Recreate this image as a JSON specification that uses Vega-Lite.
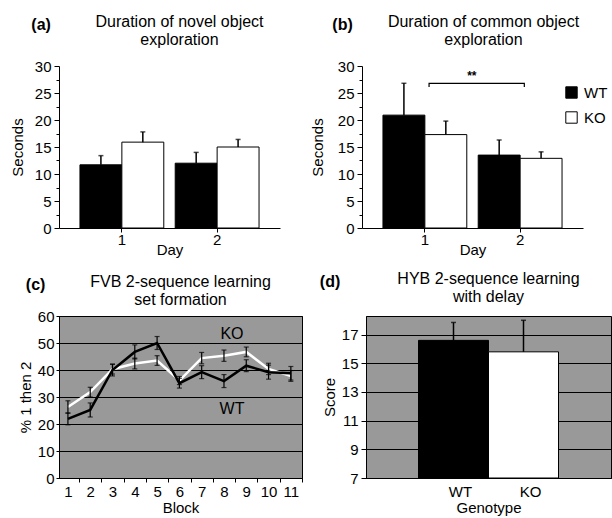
{
  "$schema": "https://vega.github.io/schema/vega-lite/v6.json",
  "padding": {"left": 10, "top": 14, "right": 0, "bottom": 0},
  "config": {
    "font": "Liberation Sans",
    "view": {"stroke": null},
    "axis": {"labelFontSize": 15, "titleFontSize": 15, "titleFontWeight": "normal", "labelColor": "black", "titleColor": "black", "domainColor": "black", "tickColor": "black", "grid": false, "tickSize": 5, "labelPadding": 3, "labelOverlap": false},
    "title": {"fontSize": 16, "fontWeight": "normal", "color": "black"},
    "legend": {"labelFontSize": 15, "labelColor": "black"}
  },
  "resolve": {"scale": {"fill": "independent", "color": "independent"}, "legend": {"fill": "independent", "color": "independent"}},
  "datasets": {
    "novel": [
      {"day": "1", "genotype": "WT", "mean": 11.7, "upper": 13.4},
      {"day": "1", "genotype": "KO", "mean": 15.9, "upper": 17.8},
      {"day": "2", "genotype": "WT", "mean": 12.0, "upper": 14.0},
      {"day": "2", "genotype": "KO", "mean": 15.0, "upper": 16.4}
    ],
    "common": [
      {"day": "1", "genotype": "WT", "mean": 20.9, "upper": 26.8},
      {"day": "1", "genotype": "KO", "mean": 17.3, "upper": 19.8},
      {"day": "2", "genotype": "WT", "mean": 13.5, "upper": 16.3},
      {"day": "2", "genotype": "KO", "mean": 12.9, "upper": 14.1}
    ],
    "bracket": [
      {"day": "1", "y": 26.1, "o": 1},
      {"day": "1", "y": 26.8, "o": 2},
      {"day": "2", "y": 26.8, "o": 3},
      {"day": "2", "y": 26.1, "o": 4}
    ],
    "stars": [{"day": "1", "y": 28.2, "label": "**"}],
    "fvb": [
      {"block": 1, "genotype": "KO", "mean": 26.3, "lo": 24.0, "hi": 28.6},
      {"block": 2, "genotype": "KO", "mean": 31.8, "lo": 30.0, "hi": 33.6},
      {"block": 3, "genotype": "KO", "mean": 40.3, "lo": 38.5, "hi": 42.1},
      {"block": 4, "genotype": "KO", "mean": 42.4, "lo": 40.4, "hi": 44.4},
      {"block": 5, "genotype": "KO", "mean": 43.5, "lo": 41.7, "hi": 45.3},
      {"block": 6, "genotype": "KO", "mean": 36.1, "lo": 34.6, "hi": 37.6},
      {"block": 7, "genotype": "KO", "mean": 44.4, "lo": 42.3, "hi": 46.5},
      {"block": 8, "genotype": "KO", "mean": 45.3, "lo": 43.2, "hi": 47.4},
      {"block": 9, "genotype": "KO", "mean": 46.7, "lo": 44.9, "hi": 48.5},
      {"block": 10, "genotype": "KO", "mean": 40.4, "lo": 38.3, "hi": 42.5},
      {"block": 11, "genotype": "KO", "mean": 37.8, "lo": 35.8, "hi": 39.8},
      {"block": 1, "genotype": "WT", "mean": 21.9, "lo": 19.7, "hi": 24.1},
      {"block": 2, "genotype": "WT", "mean": 25.2, "lo": 22.6, "hi": 27.8},
      {"block": 3, "genotype": "WT", "mean": 40.0, "lo": 37.8, "hi": 42.2},
      {"block": 4, "genotype": "WT", "mean": 46.7, "lo": 44.1, "hi": 49.3},
      {"block": 5, "genotype": "WT", "mean": 50.0, "lo": 47.6, "hi": 52.4},
      {"block": 6, "genotype": "WT", "mean": 35.1, "lo": 33.3, "hi": 36.9},
      {"block": 7, "genotype": "WT", "mean": 39.2, "lo": 36.8, "hi": 41.6},
      {"block": 8, "genotype": "WT", "mean": 35.9, "lo": 33.5, "hi": 38.3},
      {"block": 9, "genotype": "WT", "mean": 41.6, "lo": 39.4, "hi": 43.8},
      {"block": 10, "genotype": "WT", "mean": 39.2, "lo": 36.6, "hi": 41.8},
      {"block": 11, "genotype": "WT", "mean": 38.8, "lo": 36.3, "hi": 41.3}
    ],
    "fvbLabels": [
      {"block": 8.36, "y": 53.3, "label": "KO"},
      {"block": 8.36, "y": 25.6, "label": "WT"}
    ],
    "hyb": [
      {"genotype": "WT", "mean": 16.6, "upper": 17.85},
      {"genotype": "KO", "mean": 15.8, "upper": 18.0}
    ]
  },
  "vconcat": [
    {
      "spacing": 30,
      "resolve": {"scale": {"fill": "independent", "color": "independent"}, "legend": {"fill": "independent", "color": "independent"}},
      "hconcat": [
        {
          "title": {"text": "(a)", "anchor": "start", "fontWeight": "bold", "offset": 0, "dy": 19, "dx": 21},
          "vconcat": [
            {
              "width": 221, "height": 162,
              "title": {"text": ["Duration of novel object", "exploration"], "frame": "group", "dx": 10, "offset": 11},
              "data": {"name": "novel"},
              "encoding": {
                "x": {"field": "day", "type": "nominal", "title": "Day", "scale": {"paddingInner": 0.12, "paddingOuter": 0.22}, "axis": {"labelAngle": 0, "tickSize": 4, "labelPadding": 0, "titlePadding": -5}},
                "xOffset": {"field": "genotype", "type": "nominal", "sort": ["WT", "KO"], "scale": {"paddingInner": 0, "paddingOuter": 0}}
              },
              "resolve": {"axis": {"y": "independent"}},
              "layer": [
                {
                  "mark": {"type": "bar", "stroke": "black", "strokeWidth": 1},
                  "encoding": {
                    "y": {"field": "mean", "type": "quantitative", "scale": {"domain": [0, 30], "nice": false}, "axis": {"values": [0, 5, 10, 15, 20, 25, 30], "title": "Seconds", "titlePadding": 9}},
                    "fill": {"field": "genotype", "type": "nominal", "scale": {"domain": ["WT", "KO"], "range": ["black", "white"]}, "legend": null}
                  }
                },
                {
                  "mark": {"type": "rule", "color": "black", "strokeWidth": 1.5},
                  "encoding": {
                    "y": {"field": "mean", "type": "quantitative", "axis": {"values": [2.5, 7.5, 12.5, 17.5, 22.5, 27.5], "labels": false, "domain": false, "tickSize": 3, "title": null, "orient": "left"}},
                    "y2": {"field": "upper"}
                  }
                },
                {
                  "mark": {"type": "tick", "color": "black", "thickness": 1.5, "size": 5, "orient": "horizontal"},
                  "encoding": {"y": {"field": "upper", "type": "quantitative", "axis": null}}
                }
              ]
            }
          ]
        },
        {
          "title": {"text": "(b)", "anchor": "start", "fontWeight": "bold", "offset": 0, "dy": 19, "dx": 22},
          "vconcat": [
            {
              "width": 221, "height": 162,
              "title": {"text": ["Duration of common object", "exploration"], "frame": "group", "dx": 11, "offset": 11},
              "resolve": {"axis": {"y": "independent"}},
              "layer": [
                {
                  "data": {"name": "common"},
                  "mark": {"type": "bar", "stroke": "black", "strokeWidth": 1},
                  "encoding": {
                    "x": {"field": "day", "type": "nominal", "title": "Day", "scale": {"paddingInner": 0.12, "paddingOuter": 0.22}, "axis": {"labelAngle": 0, "tickSize": 4, "labelPadding": 0, "titlePadding": -5}},
                    "xOffset": {"field": "genotype", "type": "nominal", "sort": ["WT", "KO"], "scale": {"paddingInner": 0, "paddingOuter": 0}},
                    "y": {"field": "mean", "type": "quantitative", "scale": {"domain": [0, 30], "nice": false}, "axis": {"values": [0, 5, 10, 15, 20, 25, 30], "title": "Seconds", "titlePadding": 12}},
                    "fill": {"field": "genotype", "type": "nominal", "scale": {"domain": ["WT", "KO"], "range": ["black", "white"]}, "legend": {"title": null, "orient": "none", "legendX": 202, "legendY": 19, "symbolType": "square", "symbolSize": 130, "symbolStrokeColor": "black", "symbolStrokeWidth": 1, "rowPadding": 8, "labelOffset": 5}}
                  }
                },
                {
                  "data": {"name": "common"},
                  "mark": {"type": "rule", "color": "black", "strokeWidth": 1.5},
                  "encoding": {
                    "x": {"field": "day", "type": "nominal"},
                    "xOffset": {"field": "genotype", "type": "nominal", "sort": ["WT", "KO"]},
                    "y": {"field": "mean", "type": "quantitative", "axis": {"values": [2.5, 7.5, 12.5, 17.5, 22.5, 27.5], "labels": false, "domain": false, "tickSize": 3, "title": null, "orient": "left"}},
                    "y2": {"field": "upper"}
                  }
                },
                {
                  "data": {"name": "common"},
                  "mark": {"type": "tick", "color": "black", "thickness": 1.5, "size": 5, "orient": "horizontal"},
                  "encoding": {
                    "x": {"field": "day", "type": "nominal"},
                    "xOffset": {"field": "genotype", "type": "nominal", "sort": ["WT", "KO"]},
                    "y": {"field": "upper", "type": "quantitative", "axis": null}
                  }
                },
                {
                  "data": {"name": "bracket"},
                  "mark": {"type": "line", "color": "black", "strokeWidth": 1.2},
                  "encoding": {
                    "x": {"field": "day", "type": "nominal", "bandPosition": 0.55},
                    "y": {"field": "y", "type": "quantitative", "axis": null},
                    "order": {"field": "o"}
                  }
                },
                {
                  "data": {"name": "stars"},
                  "mark": {"type": "text", "fontSize": 12, "fontWeight": "bold", "color": "black"},
                  "encoding": {
                    "x": {"field": "day", "type": "nominal", "bandPosition": 1.06},
                    "y": {"field": "y", "type": "quantitative", "axis": null},
                    "text": {"field": "label"}
                  }
                }
              ]
            }
          ]
        }
      ]
    },
    {
      "spacing": 16,
      "resolve": {"scale": {"fill": "independent", "color": "independent"}, "legend": {"fill": "independent", "color": "independent"}},
      "hconcat": [
        {
          "title": {"text": "(c)", "anchor": "start", "fontWeight": "bold", "offset": 0, "dy": 19, "dx": 8},
          "vconcat": [
            {
              "width": 243, "height": 162,
              "title": {"text": ["FVB 2-sequence learning", "set formation"], "frame": "group", "offset": 1},
              "view": {"fill": "#999999", "stroke": "black"},
              "resolve": {"axis": {"x": "independent", "y": "independent"}},
              "layer": [
                {
                  "data": {"name": "fvb"},
                  "mark": {"type": "line", "strokeWidth": 2.5},
                  "encoding": {
                    "x": {"field": "block", "type": "quantitative", "scale": {"domain": [0.6, 11.5], "nice": false}, "axis": {"values": [1, 2, 3, 4, 5, 6, 7, 8, 9, 10, 11], "ticks": false, "title": "Block", "labelPadding": 6, "titlePadding": 1}},
                    "y": {"field": "mean", "type": "quantitative", "scale": {"domain": [0, 60], "nice": false}, "axis": {"values": [0, 10, 20, 30, 40, 50, 60], "grid": true, "gridColor": "black", "gridOpacity": 1, "gridWidth": 1.2, "title": "% 1 then 2", "titlePadding": 4, "tickSize": 3, "labelPadding": 2}},
                    "color": {"field": "genotype", "type": "nominal", "scale": {"domain": ["WT", "KO"], "range": ["black", "white"]}, "legend": null}
                  }
                },
                {
                  "data": {"name": "fvb"},
                  "mark": {"type": "rule", "color": "black", "strokeWidth": 1.2},
                  "encoding": {
                    "x": {"field": "block", "type": "quantitative", "axis": {"values": [1.5, 2.5, 3.5, 4.5, 5.5, 6.5, 7.5, 8.5, 9.5, 10.5, 11.5], "labels": false, "domain": false, "tickSize": 4, "title": null, "orient": "bottom"}},
                    "y": {"field": "lo", "type": "quantitative", "axis": null},
                    "y2": {"field": "hi"}
                  }
                },
                {
                  "data": {"name": "fvb"},
                  "mark": {"type": "tick", "color": "black", "thickness": 1.2, "size": 5, "orient": "horizontal"},
                  "encoding": {
                    "x": {"field": "block", "type": "quantitative", "axis": null},
                    "y": {"field": "lo", "type": "quantitative", "axis": null}
                  }
                },
                {
                  "data": {"name": "fvb"},
                  "mark": {"type": "tick", "color": "black", "thickness": 1.2, "size": 5, "orient": "horizontal"},
                  "encoding": {
                    "x": {"field": "block", "type": "quantitative", "axis": null},
                    "y": {"field": "hi", "type": "quantitative", "axis": null}
                  }
                },
                {
                  "data": {"name": "fvbLabels"},
                  "mark": {"type": "text", "fontSize": 16, "color": "black"},
                  "encoding": {
                    "x": {"field": "block", "type": "quantitative", "axis": null},
                    "y": {"field": "y", "type": "quantitative", "axis": null},
                    "text": {"field": "label"}
                  }
                }
              ]
            }
          ]
        },
        {
          "title": {"text": "(d)", "anchor": "start", "fontWeight": "bold", "offset": 0, "dy": 19, "dx": -2},
          "vconcat": [
            {
              "width": 245, "height": 162,
              "title": {"text": ["HYB 2-sequence learning", "with  delay"], "frame": "group", "offset": 11},
              "view": {"fill": "#999999", "stroke": "black"},
              "data": {"name": "hyb"},
              "encoding": {
                "x": {"field": "genotype", "type": "nominal", "sort": ["WT", "KO"], "title": "Genotype", "scale": {"paddingInner": 0, "paddingOuter": 0.75}, "axis": {"labelAngle": 0, "ticks": false, "labelOffset": 7, "labelPadding": 6, "titlePadding": 1}}
              },
              "resolve": {"axis": {"y": "independent"}},
              "layer": [
                {
                  "mark": {"type": "bar", "stroke": "black", "strokeWidth": 1},
                  "encoding": {
                    "y": {"field": "mean", "type": "quantitative", "scale": {"domain": [7, 18.3], "nice": false, "zero": false}, "axis": {"values": [7, 9, 11, 13, 15, 17], "grid": true, "gridColor": "black", "gridOpacity": 1, "gridWidth": 1.2, "title": "Score"}},
                    "y2": {"datum": 7},
                    "fill": {"field": "genotype", "type": "nominal", "scale": {"domain": ["WT", "KO"], "range": ["black", "white"]}, "legend": null}
                  }
                },
                {
                  "mark": {"type": "rule", "color": "black", "strokeWidth": 1.5},
                  "encoding": {"y": {"field": "mean", "type": "quantitative", "axis": null}, "y2": {"field": "upper"}}
                },
                {
                  "mark": {"type": "tick", "color": "black", "thickness": 1.5, "size": 5, "orient": "horizontal"},
                  "encoding": {"y": {"field": "upper", "type": "quantitative", "axis": null}}
                }
              ]
            }
          ]
        }
      ]
    }
  ],
  "spacing": 13
}
